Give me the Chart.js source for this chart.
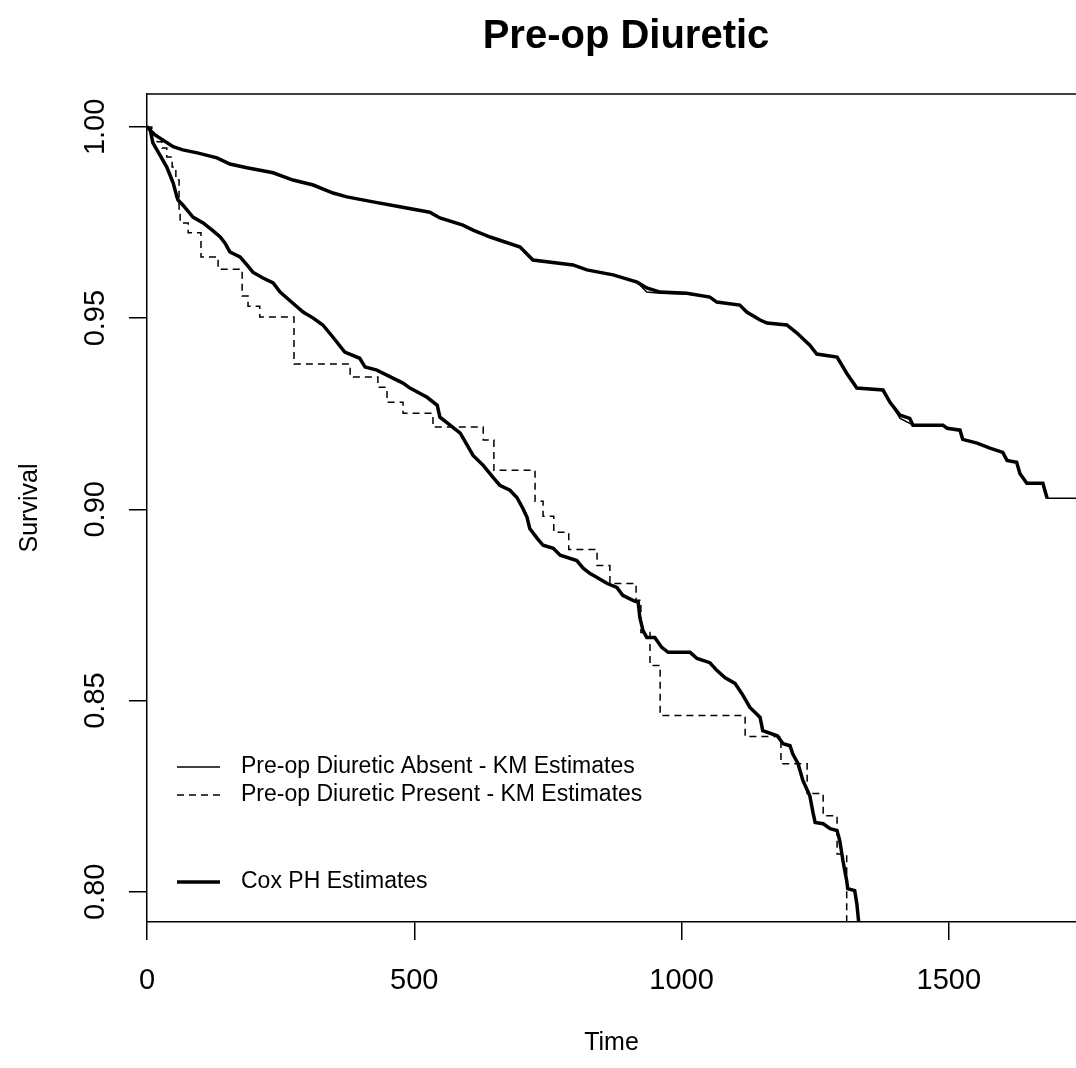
<!DOCTYPE html>
<html>
<head>
<meta charset="utf-8">
<title>Pre-op Diuretic</title>
<script src="https://cdn.jsdelivr.net/npm/chart.js@4.4.1/dist/chart.umd.min.js"></script>
<style>
  html, body { margin: 0; padding: 0; background: #fff; }
  canvas { display: block; }
</style>
</head>
<body>
<canvas id="survivalChart" width="1076" height="1068"></canvas>
<script>
// values
const chartTitle = 'Pre-op Diuretic';
const xTicks = [0, 500, 1000, 1500];
const yTicks = [0.80, 0.85, 0.90, 0.95, 1.00];
const legendLabels = [
    'Pre-op Diuretic Absent - KM Estimates',
    'Pre-op Diuretic Present - KM Estimates',
    'Cox PH Estimates'
];

// Diuretic absent, Kaplan-Meier (thin solid)
const kmAbsentTime = [0, 15, 49, 67, 94, 131, 155, 187, 236, 273, 311, 348, 374, 423, 473, 529, 548, 591, 610, 642,
    698, 722, 797, 823, 872, 917, 935, 960, 1010, 1053, 1066, 1109, 1122, 1147, 1160, 1197, 1216, 1240, 1253, 1291,
    1309, 1328, 1377, 1390, 1409, 1427, 1433, 1489, 1497, 1521, 1526, 1553, 1577, 1601, 1609, 1627, 1633, 1646, 1676, 1684, 1740];
const kmAbsentSurv = [1.0, 0.9979, 0.9948, 0.9940, 0.9932, 0.9919, 0.9903, 0.9893, 0.9880, 0.9861, 0.9848, 0.9827, 0.9817, 0.9804, 0.9791, 0.9777, 0.9762, 0.9743, 0.9730, 0.9712,
    0.9686, 0.9652, 0.9639, 0.9626, 0.9613, 0.9594, 0.9568, 0.9565, 0.9563, 0.9555, 0.9542, 0.9534, 0.9516, 0.9495, 0.9487, 0.9482, 0.9461, 0.9429, 0.9406, 0.9398,
    0.9356, 0.9317, 0.9312, 0.9280, 0.9238, 0.9225, 0.9220, 0.9220, 0.9212, 0.9207, 0.9183, 0.9173, 0.9160, 0.9149, 0.9128, 0.9123, 0.9094, 0.9068, 0.9068, 0.9029, 0.9029];

// Diuretic present, Kaplan-Meier (dashed steps)
const kmPresentTime = [0, 9, 19, 28, 37, 47, 54, 60, 62, 77, 101, 133, 178, 189, 211, 275, 380, 432, 449, 479,
    535, 629, 649, 726, 741, 761, 789, 842, 866, 915, 924, 941, 960, 1119, 1186, 1235, 1265, 1291, 1309];
const kmPresentSurv = [1.0, 0.9979, 0.9961, 0.9945, 0.9921, 0.9895, 0.9861, 0.9777, 0.9749, 0.9723, 0.9660, 0.9628, 0.9558, 0.9531, 0.9503, 0.9380, 0.9346, 0.9319, 0.9280, 0.9251,
    0.9215, 0.9181, 0.9102, 0.9021, 0.8982, 0.8940, 0.8895, 0.8853, 0.8806, 0.8762, 0.8678, 0.8592, 0.8461, 0.8406, 0.8335, 0.8257, 0.8199, 0.8099, 0.7870];

// Cox PH, diuretic absent (thick)
const coxAbsentTime = [0, 15, 49, 67, 94, 131, 155, 187, 236, 273, 311, 348, 374, 423, 473, 529, 548, 591, 610, 642,
    698, 722, 797, 823, 872, 917, 935, 960, 1010, 1053, 1066, 1109, 1122, 1147, 1160, 1197, 1216, 1240, 1253, 1291,
    1309, 1328, 1377, 1390, 1409, 1427, 1433, 1489, 1497, 1521, 1526, 1553, 1577, 1601, 1609, 1627, 1633, 1646, 1676, 1684];
const coxAbsentSurv = [1.0, 0.9979, 0.9948, 0.9940, 0.9932, 0.9919, 0.9903, 0.9893, 0.9880, 0.9861, 0.9848, 0.9827, 0.9817, 0.9804, 0.9791, 0.9777, 0.9762, 0.9743, 0.9730, 0.9712,
    0.9686, 0.9652, 0.9639, 0.9626, 0.9613, 0.9594, 0.9579, 0.9568, 0.9565, 0.9555, 0.9542, 0.9534, 0.9516, 0.9495, 0.9487, 0.9482, 0.9461, 0.9429, 0.9406, 0.9398,
    0.9356, 0.9317, 0.9312, 0.9280, 0.9246, 0.9238, 0.9220, 0.9220, 0.9212, 0.9207, 0.9183, 0.9173, 0.9160, 0.9149, 0.9128, 0.9123, 0.9094, 0.9068, 0.9068, 0.9029];

// Cox PH, diuretic present (thick)
const coxPresentTime = [0, 6, 11, 24, 37, 49, 56, 58, 67, 86, 105, 122, 137, 146, 155, 174, 187, 198, 217, 236,
    249, 273, 292, 311, 329, 348, 370, 398, 408, 430, 460, 479, 492, 524, 543, 548, 567, 586, 599, 610,
    629, 647, 660, 679, 692, 703, 711, 716, 730, 741, 760, 773, 804, 816, 829, 842, 861, 879, 890, 909,
    919, 922, 928, 935, 950, 963, 975, 1016, 1029, 1053, 1066, 1081, 1100, 1113, 1128, 1147, 1152, 1179, 1190, 1203,
    1208, 1218, 1227, 1240, 1246, 1250, 1265, 1278, 1291, 1296, 1302, 1309, 1311, 1324, 1328, 1334];
const coxPresentSurv = [1.0, 0.9992, 0.9958, 0.9927, 0.9895, 0.9853, 0.9817, 0.9809, 0.9796, 0.9764, 0.9749, 0.9730, 0.9712, 0.9696, 0.9673, 0.9660, 0.9639, 0.9620, 0.9605, 0.9592,
    0.9568, 0.9539, 0.9516, 0.9500, 0.9482, 0.9450, 0.9411, 0.9395, 0.9372, 0.9364, 0.9343, 0.9330, 0.9317, 0.9293, 0.9272, 0.9241, 0.9220, 0.9199, 0.9168, 0.9141,
    0.9115, 0.9084, 0.9063, 0.9050, 0.9031, 0.9003, 0.8979, 0.8950, 0.8924, 0.8906, 0.8898, 0.8880, 0.8866, 0.8846, 0.8832, 0.8822, 0.8806, 0.8796, 0.8775, 0.8762,
    0.8757, 0.8717, 0.8683, 0.8665, 0.8665, 0.8639, 0.8626, 0.8626, 0.8610, 0.8599, 0.8579, 0.8560, 0.8545, 0.8518, 0.8482, 0.8456, 0.8421, 0.8408, 0.8387, 0.8382,
    0.8361, 0.8335, 0.8291, 0.8251, 0.8207, 0.8181, 0.8178, 0.8165, 0.8160, 0.8134, 0.8081, 0.8029, 0.8008, 0.8003, 0.7969, 0.7885];

const font = 'Liberation Sans, Arial, Helvetica, sans-serif';
const zip = (t, s) => t.map((v, i) => ({ x: v, y: s[i] }));

// box top edge, main title and the in-plot legend (R style)
const rPlotPlugin = {
    id: 'rPlot',
    afterDraw(chart) {
        const { ctx, chartArea } = chart;
        ctx.save();
        ctx.strokeStyle = '#000';
        ctx.lineWidth = 1.5;
        ctx.beginPath();
        ctx.moveTo(chartArea.left, chartArea.top);
        ctx.lineTo(chartArea.right, chartArea.top);
        ctx.stroke();

        ctx.fillStyle = '#000';
        ctx.textAlign = 'center';
        ctx.textBaseline = 'middle';
        ctx.font = 'bold 40px ' + font;
        ctx.fillText(chartTitle, 626, 37);

        // legend: rows 1-2 are the KM curves, row 3 the Cox curves
        const rows = [767, 795, 882];
        const ds = chart.data.datasets;
        const sample = [ds[0], ds[1], ds[2]];
        ctx.font = '23px ' + font;
        ctx.textAlign = 'left';
        legendLabels.forEach((label, i) => {
            ctx.lineWidth = sample[i].borderWidth;
            ctx.setLineDash(sample[i].borderDash || []);
            ctx.beginPath();
            ctx.moveTo(177, rows[i]);
            ctx.lineTo(220, rows[i]);
            ctx.stroke();
            ctx.fillText(label, 241, rows[i]);
        });
        ctx.restore();
    }
};

const ctx = document.getElementById('survivalChart').getContext('2d');
window.survivalChart = new Chart(ctx, {
    type: 'line',
    data: {
        datasets: [
            { label: legendLabels[0], data: zip(kmAbsentTime, kmAbsentSurv), borderColor: '#000', borderWidth: 1.5 },
            { label: legendLabels[1], data: zip(kmPresentTime, kmPresentSurv), borderColor: '#000', borderWidth: 1.5,
              borderDash: [7, 5], stepped: true },
            { label: legendLabels[2], data: zip(coxAbsentTime, coxAbsentSurv), borderColor: '#000', borderWidth: 3.5 },
            { label: legendLabels[2], data: zip(coxPresentTime, coxPresentSurv), borderColor: '#000', borderWidth: 3.5 }
        ]
    },
    options: {
        responsive: false,
        animation: false,
        devicePixelRatio: 1,
        elements: { point: { radius: 0 }, line: { tension: 0, fill: false } },
        datasets: { line: { clip: 0 } },
        layout: { padding: { top: 94, left: 0, right: 0, bottom: 0 } },
        plugins: { legend: { display: false }, tooltip: { enabled: false } },
        scales: {
            x: {
                type: 'linear',
                min: 0,
                max: 1738,
                afterBuildTicks: s => { s.ticks = xTicks.map(v => ({ value: v })); },
                afterFit: s => { s.height = 146; },
                grid: { drawOnChartArea: false, tickLength: 18, color: '#000', lineWidth: 1.5 },
                border: { display: true, color: '#000', width: 1.5 },
                ticks: {
                    color: '#000', font: { family: font, size: 29 }, padding: 24, maxRotation: 0, autoSkip: false,
                    callback: v => String(v)
                },
                title: { display: true, text: 'Time', color: '#000', font: { family: font, size: 25 }, padding: { top: 0, bottom: 10 } }
            },
            y: {
                type: 'linear',
                min: 0.7921,
                max: 1.0086,
                afterBuildTicks: s => { s.ticks = yTicks.map(v => ({ value: v })); },
                afterFit: s => { s.width = 147; },
                grid: { drawOnChartArea: false, tickLength: 18, color: '#000', lineWidth: 1.5 },
                border: { display: true, color: '#000', width: 1.5 },
                ticks: {
                    color: '#000', font: { family: font, size: 29 }, padding: 5, crossAlign: 'center',
                    minRotation: 90, maxRotation: 90, autoSkip: false,
                    callback: v => v.toFixed(2)
                },
                title: { display: true, text: 'Survival', color: '#000', font: { family: font, size: 25 }, padding: { top: 15, bottom: 0 } }
            }
        }
    },
    plugins: [rPlotPlugin]
});
</script>
</body>
</html>
